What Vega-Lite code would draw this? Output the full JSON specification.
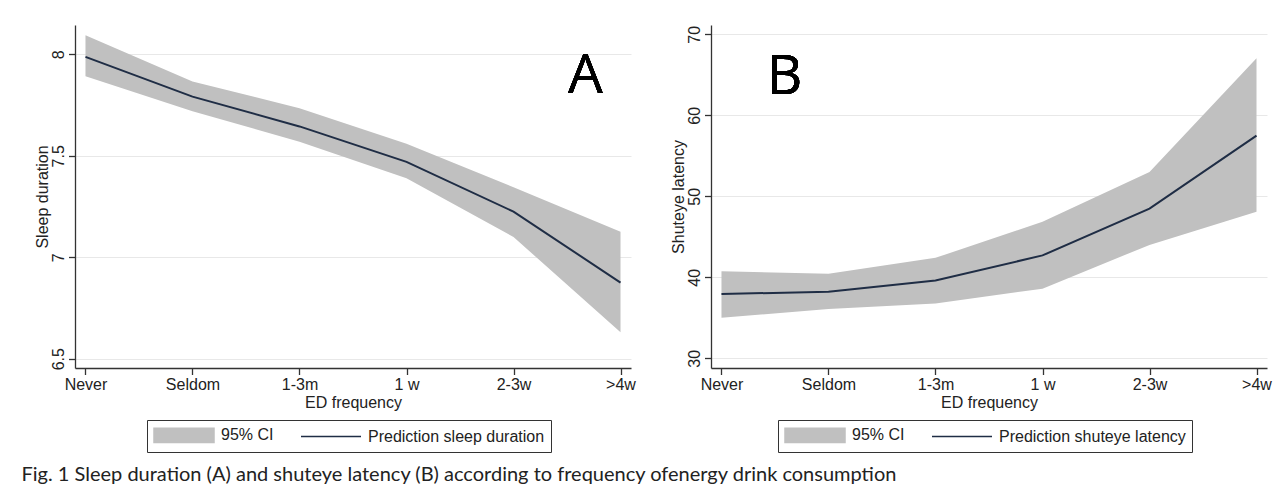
{
  "$schema": "https://vega.github.io/schema/vega-lite/v6.json",
  "background": "white",
  "padding": {"left": 21, "top": 25, "right": 5, "bottom": 2},
  "datasets": {
    "A": [
      {"freq": "Never", "pred": 7.988, "lo": 7.892, "hi": 8.095},
      {"freq": "Seldom", "pred": 7.792, "lo": 7.72, "hi": 7.866},
      {"freq": "1-3m", "pred": 7.645, "lo": 7.57, "hi": 7.735},
      {"freq": "1 w", "pred": 7.47, "lo": 7.39, "hi": 7.56},
      {"freq": "2-3w", "pred": 7.225, "lo": 7.1, "hi": 7.345},
      {"freq": ">4w", "pred": 6.875, "lo": 6.63, "hi": 7.126}
    ],
    "B": [
      {"freq": "Never", "pred": 37.95, "lo": 35.0, "hi": 40.75},
      {"freq": "Seldom", "pred": 38.2, "lo": 36.1, "hi": 40.45},
      {"freq": "1-3m", "pred": 39.6, "lo": 36.75, "hi": 42.4},
      {"freq": "1 w", "pred": 42.7, "lo": 38.6, "hi": 46.85},
      {"freq": "2-3w", "pred": 48.47, "lo": 44.0, "hi": 53.0},
      {"freq": ">4w", "pred": 57.5, "lo": 48.1, "hi": 67.05}
    ]
  },
  "title": {
    "text": "Fig. 1  Sleep duration (A) and shuteye latency (B) according to frequency ofenergy drink consumption",
    "orient": "bottom",
    "anchor": "start",
    "font": "Lato",
    "fontSize": 20,
    "fontWeight": "normal",
    "color": "#222",
    "offset": 12,
    "dx": -13
  },
  "hconcat": [
    {
      "width": 556,
      "height": 343,
      "data": {"name": "A"},
      "layer": [
        {
          "mark": {"type": "area", "opacity": 1},
          "encoding": {
            "x": {"field": "freq", "type": "ordinal", "sort": ["Never", "Seldom", "1-3m", "1 w", "2-3w", ">4w"],
                  "scale": {"type": "point", "padding": 0.098},
                  "axis": {"title": "ED frequency", "labelAngle": 0, "grid": false}},
            "y": {"field": "lo", "type": "quantitative",
                  "scale": {"domain": [6.454, 8.145], "nice": false, "zero": false},
                  "axis": {"title": "Sleep duration", "values": [6.5, 7, 7.5, 8], "labelExpr": "datum.value", "labelAngle": -90, "titlePadding": 0}},
            "y2": {"field": "hi"},
            "color": {"datum": "95% CI",
                      "scale": {"domain": ["95% CI", "Prediction sleep duration"], "range": ["#c0c0c0", "#1f2d45"]},
                      "legend": {
                        "title": null, "orient": "none", "legendX": 72, "legendY": 395, "direction": "horizontal",
                        "symbolSize": 256, "labelOffset": 50, "columnPadding": 24, "padding": 6, "labelLimit": 400,
                        "strokeColor": "#333", "fillColor": "white",
                        "encoding": {"symbols": {
                          "shape": {"condition": {"test": "datum.value === '95% CI'", "value": "M-1,-0.9H6.5V0.9H-1Z"}, "value": "M-1,0H6.5"},
                          "fill": {"condition": {"test": "datum.value === '95% CI'", "value": "#c0c0c0"}, "value": "transparent"},
                          "stroke": {"condition": {"test": "datum.value === '95% CI'", "value": "transparent"}, "value": "#1f2d45"},
                          "strokeWidth": {"value": 1.5},
                          "opacity": {"value": 1}
                        }}
                      }}
          }
        },
        {
          "mark": {"type": "line", "strokeWidth": 2},
          "encoding": {
            "x": {"field": "freq", "type": "ordinal", "sort": ["Never", "Seldom", "1-3m", "1 w", "2-3w", ">4w"]},
            "y": {"field": "pred", "type": "quantitative"},
            "color": {"datum": "Prediction sleep duration"}
          }
        },
        {
          "mark": {"type": "text", "font": "Open Sans", "fontSize": 55, "baseline": "alphabetic", "dx": -35, "color": "black"},
          "encoding": {
            "x": {"datum": ">4w"},
            "y": {"datum": 7.81},
            "text": {"value": "A"}
          }
        }
      ]
    },
    {
      "width": 556,
      "height": 343,
      "data": {"name": "B"},
      "layer": [
        {
          "mark": {"type": "area", "opacity": 1},
          "encoding": {
            "x": {"field": "freq", "type": "ordinal", "sort": ["Never", "Seldom", "1-3m", "1 w", "2-3w", ">4w"],
                  "scale": {"type": "point", "padding": 0.098},
                  "axis": {"title": "ED frequency", "labelAngle": 0, "grid": false}},
            "y": {"field": "lo", "type": "quantitative",
                  "scale": {"domain": [28.8, 71.15], "nice": false, "zero": false},
                  "axis": {"title": "Shuteye latency", "values": [30, 40, 50, 60, 70], "labelExpr": "datum.value", "labelAngle": -90, "titlePadding": 0}},
            "y2": {"field": "hi"},
            "color": {"datum": "95% CI",
                      "scale": {"domain": ["95% CI", "Prediction shuteye latency"], "range": ["#c0c0c0", "#1f2d45"]},
                      "legend": {
                        "title": null, "orient": "none", "legendX": 67, "legendY": 395, "direction": "horizontal",
                        "symbolSize": 256, "labelOffset": 50, "columnPadding": 24, "padding": 6, "labelLimit": 400,
                        "strokeColor": "#333", "fillColor": "white",
                        "encoding": {"symbols": {
                          "shape": {"condition": {"test": "datum.value === '95% CI'", "value": "M-1,-0.9H6.5V0.9H-1Z"}, "value": "M-1,0H6.5"},
                          "fill": {"condition": {"test": "datum.value === '95% CI'", "value": "#c0c0c0"}, "value": "transparent"},
                          "stroke": {"condition": {"test": "datum.value === '95% CI'", "value": "transparent"}, "value": "#1f2d45"},
                          "strokeWidth": {"value": 1.5},
                          "opacity": {"value": 1}
                        }}
                      }}
          }
        },
        {
          "mark": {"type": "line", "strokeWidth": 2},
          "encoding": {
            "x": {"field": "freq", "type": "ordinal", "sort": ["Never", "Seldom", "1-3m", "1 w", "2-3w", ">4w"]},
            "y": {"field": "pred", "type": "quantitative"},
            "color": {"datum": "Prediction shuteye latency"}
          }
        },
        {
          "mark": {"type": "text", "font": "Open Sans", "fontSize": 55, "baseline": "alphabetic", "dx": 63, "color": "black"},
          "encoding": {
            "x": {"datum": "Never"},
            "y": {"datum": 62.6},
            "text": {"value": "B"}
          }
        }
      ]
    }
  ],
  "spacing": 34,
  "resolve": {"scale": {"x": "independent", "y": "independent", "color": "independent"}, "legend": {"color": "independent"}},
  "config": {
    "view": {"stroke": null},
    "axis": {
      "labelFont": "Liberation Sans", "labelFontSize": 16, "labelColor": "#222",
      "titleFont": "Liberation Sans", "titleFontSize": 16, "titleFontWeight": "normal", "titleColor": "#222",
      "domainColor": "#333", "domainWidth": 1.3, "tickColor": "#333", "tickWidth": 1.3, "tickSize": 6.5,
      "gridColor": "#e8e8e8", "gridWidth": 1, "labelPadding": 2, "titlePadding": 2
    },
    "legend": {"labelFont": "Liberation Sans", "labelFontSize": 16, "labelColor": "#222"}
  }
}
